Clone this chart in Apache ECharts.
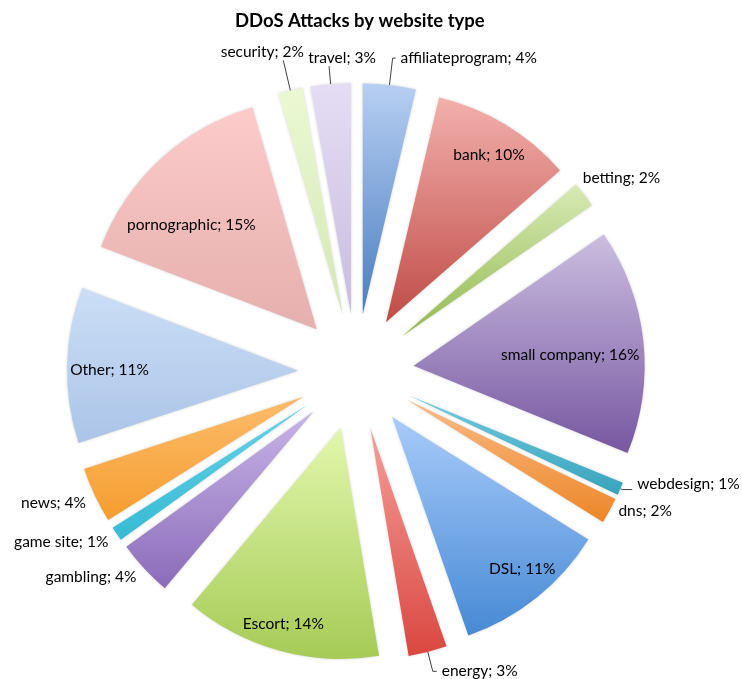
<!DOCTYPE html>
<html>
<head>
<meta charset="utf-8">
<title>DDoS Attacks by website type</title>
<script src="https://cdn.jsdelivr.net/npm/echarts@6/dist/echarts.min.js"></script>
<style>
    html, body { margin: 0; padding: 0; background: #fff; }
    #main { width: 742px; height: 679px; }
</style>
</head>
<body>
<div id="main"></div>
<script>
    // website types, clockwise from 12 o'clock
    var names = ['affiliateprogram', 'bank', 'betting', 'small company', 'webdesign', 'dns', 'DSL', 'energy',
        'Escort', 'gambling', 'game site', 'news', 'Other', 'pornographic', 'security', 'travel'];
    // share of attacks (%)
    var shares = [3.7, 9.9, 1.8, 15.8, 0.9, 1.8, 10.8, 2.7, 13.8, 3.9, 1.0, 3.9, 10.9, 14.7, 1.7, 2.8];

    // slice fills, light at top -> darker at bottom
    var topColors = ['#b7cff2', '#f3b0ac', '#d7eab5', '#cbbee0', '#70cbdf', '#f9bb88', '#a8cbfa', '#f59f9b',
        '#e2f7ad', '#c8b4e7', '#66d3e8', '#fdbc6b', '#cbdef6', '#fccbca', '#ebf9d3', '#e5ddf4'];
    var bottomColors = ['#4a7dc0', '#bf4b47', '#94b94f', '#7757a1', '#39a3bd', '#ed8627', '#4689d4', '#da4740',
        '#a6cb56', '#8b6bb9', '#37bad4', '#f59d2e', '#abc4e7', '#e5afad', '#d4e7b3', '#c9bcdf'];

    // labels drawn inside the slice: radial push outward (px) and a small extra nudge
    var insideLabels = {
        'bank': {push: 77, dx: 2, dy: 0},
        'small company': {push: 39, dx: 0, dy: 6},
        'DSL': {push: 80, dx: 6, dy: -3},
        'Escort': {push: 84, dx: -4, dy: 1},
        'Other': {push: 70, dx: 0, dy: 4},
        'pornographic': {push: 40, dx: -18, dy: 12}
    };
    // labels drawn outside the slice
    var outsideLabels = {
        'affiliateprogram': {length: 27, length2: 3, line: true},
        'betting': {length: 2, length2: 0, line: false, dx: -8, dy: -15},
        'webdesign': {length: 2, length2: 10, line: true, dy: -6},
        'dns': {length: 1, length2: 0, line: false, dx: 3},
        'energy': {length: 20, length2: 4, line: true},
        'gambling': {length: 4, length2: 0, line: false, dy: 6},
        'game site': {length: 4, length2: 0, line: false, dy: 6},
        'news': {length: 4, length2: 0, line: false, dy: 6},
        'security': {length: 31, length2: 0, line: true, align: 'center', dist: 21},
        'travel': {length: 18, length2: 0, line: true, align: 'center', dist: -13}
    };

    var total = shares.reduce(function (a, b) { return a + b; }, 0);

    function midAngle(i) {
        var before = 0;
        for (var k = 0; k < i; k++) before += shares[k];
        return (before + shares[i] / 2) / total * 2 * Math.PI;
    }

    var chart = echarts.init(document.getElementById('main'));

    var data = names.map(function (n, i) {
        var item = {
            name: n,
            value: shares[i],
            selected: true,
            itemStyle: {
                color: {
                    type: 'linear', x: 0, y: 0, x2: 0, y2: 1,
                    colorStops: [{offset: 0, color: topColors[i]}, {offset: 1, color: bottomColors[i]}]
                }
            }
        };
        if (insideLabels[n]) {
            item.label = {position: 'inside'};
            item.labelLine = {show: false};
        } else {
            var o = outsideLabels[n];
            item.label = {position: 'outside'};
            if (o.dist != null) item.label.distanceToLabelLine = o.dist;
            item.labelLine = {show: o.line, length: o.length, length2: o.length2};
        }
        return item;
    });

    var option = {
        animation: false,
        title: {
            text: 'DDoS Attacks by website type',
            left: 230,
            top: 7,
            textStyle: {fontFamily: 'Lato', fontSize: 18.5, fontWeight: 'bold', color: '#000'}
        },
        series: [{
            type: 'pie',
            center: [356, 372],
            radius: 231,
            startAngle: 90,
            clockwise: true,
            selectedMode: 'multiple',
            selectedOffset: 58,
            avoidLabelOverlap: false,
            itemStyle: {borderWidth: 0, shadowBlur: 3, shadowColor: 'rgba(0,0,0,0.18)'},
            select: {itemStyle: {borderWidth: 0}},
            label: {
                fontFamily: 'Lato',
                fontSize: 15.5,
                color: '#000',
                formatter: function (p) {
                    return p.name + '; ' + Math.round(p.percent) + '%';
                }
            },
            labelLine: {smooth: false, lineStyle: {color: '#404040', width: 1}},
            labelLayout: function (p) {
                var n = names[p.dataIndex];
                var ins = insideLabels[n];
                if (ins) {
                    var a = midAngle(p.dataIndex);
                    return {dx: ins.push * Math.sin(a) + ins.dx, dy: -ins.push * Math.cos(a) + ins.dy};
                }
                var o = outsideLabels[n];
                var res = {};
                if (o.align) {
                    res.align = o.align;
                    res.verticalAlign = 'bottom';
                }
                if (o.dx) res.dx = o.dx;
                if (o.dy) res.dy = o.dy;
                return res;
            },
            data: data
        }]
    };

    chart.setOption(option);
</script>
</body>
</html>
